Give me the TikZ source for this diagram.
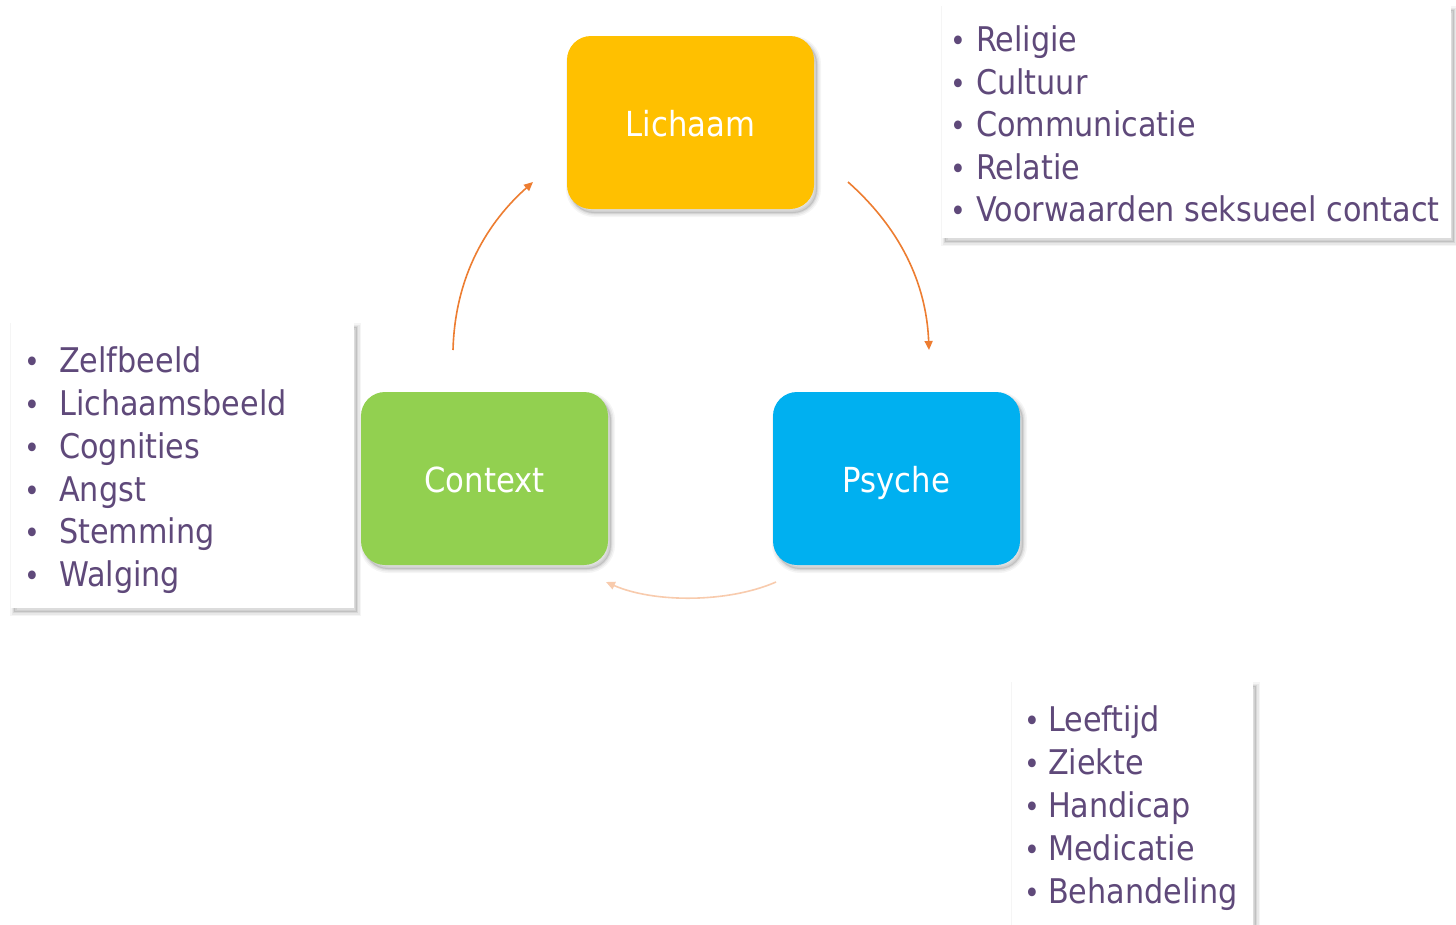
\documentclass[tikz,border=0pt]{standalone}
\usepackage{fontspec}
\newfontfamily\tah[FakeStretch=0.89]{DejaVu Sans}
\usetikzlibrary{arrows.meta}
\definecolor{txt}{HTML}{5F497A}
\definecolor{arr}{HTML}{ED7D31}
\definecolor{arrlight}{HTML}{F8CBAD}
\definecolor{lich}{HTML}{FFC000}
\definecolor{ctx}{HTML}{92D050}
\definecolor{psy}{HTML}{00B0F0}
\begin{document}
\begin{tikzpicture}[x=1pt,y=-1pt]
\useasboundingbox[fill=white] (0,0) rectangle (1456,924);
\tikzset{
  softshadow/.style={
    preaction={draw=black, draw opacity=0.04, line width=8pt, transform canvas={shift={(3pt,-4pt)}}},
    preaction={draw=black, draw opacity=0.05, line width=5pt, transform canvas={shift={(3pt,-4pt)}}},
    preaction={draw=black, draw opacity=0.07, line width=2pt, transform canvas={shift={(3pt,-4pt)}}},
    preaction={fill=black, fill opacity=0.10, transform canvas={shift={(3pt,-4pt)}}}},
  core/.style={softshadow, rounded corners=24pt, minimum width=247pt, minimum height=173pt, inner sep=0pt,
    text=white, font=\tah\fontsize{34.5}{40}\selectfont, text height=28pt, text depth=0pt},
  listbox/.style={softshadow, fill=white, inner sep=0pt, anchor=north west},
  item/.style={anchor=base west, inner sep=0pt, text=txt, font=\tah\fontsize{34}{40}\selectfont},
  bul/.style={anchor=base, inner sep=0pt, text=txt, font=\tah\fontsize{30}{40}\selectfont},
  flow/.style={draw=arr, line width=1.6pt, -{Triangle[length=9pt,width=8pt]}},
}
% core nodes
\node[core, fill=lich] (L) at (690.5,122.5) {Lichaam};
\node[core, fill=ctx] (C) at (484.5,478.5) {Context};
\node[core, fill=psy] (P) at (896.5,478.5) {Psyche};

% connectors
\coordinate (a1s) at (453,350);
\coordinate (a1e) at (533,182);
\coordinate (a2s) at (848,182);
\coordinate (a2e) at (929,350);
\coordinate (a3s) at (776,582);
\coordinate (a3e) at (606,582);
\draw[flow] (a1s) .. controls (455,275) and (488,222) .. (a1e);
\draw[flow] (a2s) .. controls (893,222) and (926,275) .. (a2e);
\draw[flow, draw=arrlight] (a3s) .. controls (728,603) and (654,603) .. (a3e);

% right list
\node[listbox, minimum width=509pt, minimum height=232pt] (RB) at (942,6) {};
\foreach \t [count=\i] in {Religie,Cultuur,Communicatie,Relatie,Voorwaarden seksueel contact}{
  \node[bul] (rb\i) at (958,{51.5+42.5*(\i-1)}) {•};
  \node[item] (rt\i) at (976,{51.5+42.5*(\i-1)}) {\t};
}

% left list
\node[listbox, minimum width=343pt, minimum height=285pt] (LB) at (11,323) {};
\foreach \t [count=\i] in {Zelfbeeld,Lichaamsbeeld,Cognities,Angst,Stemming,Walging}{
  \node[bul] (lb\i) at (32,{372.5+42.85*(\i-1)}) {•};
  \node[item] (lt\i) at (59,{372.5+42.85*(\i-1)}) {\t};
}

% bottom list
\node[listbox, minimum width=241pt, minimum height=260pt] (BB) at (1012,682) {};
\foreach \t [count=\i] in {Leeftijd,Ziekte,Handicap,Medicatie,Behandeling}{
  \node[bul] (bb\i) at (1032,{731+43*(\i-1)}) {•};
  \node[item] (bt\i) at (1048,{731+43*(\i-1)}) {\t};
}
\end{tikzpicture}
\end{document}
